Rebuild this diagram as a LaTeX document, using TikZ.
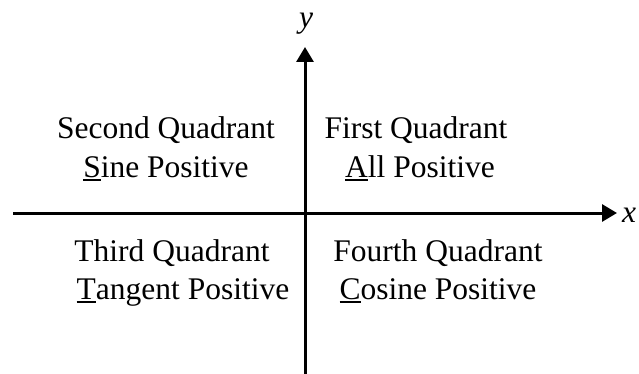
\documentclass[tikz,border=0pt]{standalone}
\usepackage{fontspec}
\setmainfont{Liberation Serif}
\usetikzlibrary{arrows.meta}
\newcommand\myul[1]{\setbox0\hbox{#1}\rlap{\rule[-4pt]{\wd0}{2pt}}\box0}
\begin{document}
\begin{tikzpicture}[x=1pt,y=-1pt,
  axis/.style={line width=3pt,-{Triangle[length=15pt,width=17pt]}},
  lbl/.style={anchor=base,inner sep=0pt,font=\fontsize{31.5}{37}\selectfont},
  axlbl/.style={anchor=base,inner sep=0pt,font=\fontsize{31.5}{37}\selectfont\itshape}]
\useasboundingbox (0,0) rectangle (639,374);
\coordinate (xl) at (13,213);
\coordinate (xr) at (617,213);
\coordinate (yb) at (305,374);
\coordinate (yt) at (305,47);
\draw[axis] (xl) -- (xr);
\draw[axis] (yb) -- (yt);
\node[axlbl] (xlab) at (629,222) {x};
\node[axlbl] (ylab) at (306,28) {y};
\node[lbl] (q2a) at (166,139) {Second Quadrant};
\node[lbl] (q2b) at (166,177) {\myul{S}ine Positive};
\node[lbl] (q1a) at (416,139) {First Quadrant};
\node[lbl] (q1b) at (420,177) {\myul{A}ll Positive};
\node[lbl] (q3a) at (172,261) {Third Quadrant};
\node[lbl] (q3b) at (183,299) {\myul{T}angent Positive};
\node[lbl] (q4a) at (438,261) {Fourth Quadrant};
\node[lbl] (q4b) at (438,299) {\myul{C}osine Positive};
\end{tikzpicture}
\end{document}
